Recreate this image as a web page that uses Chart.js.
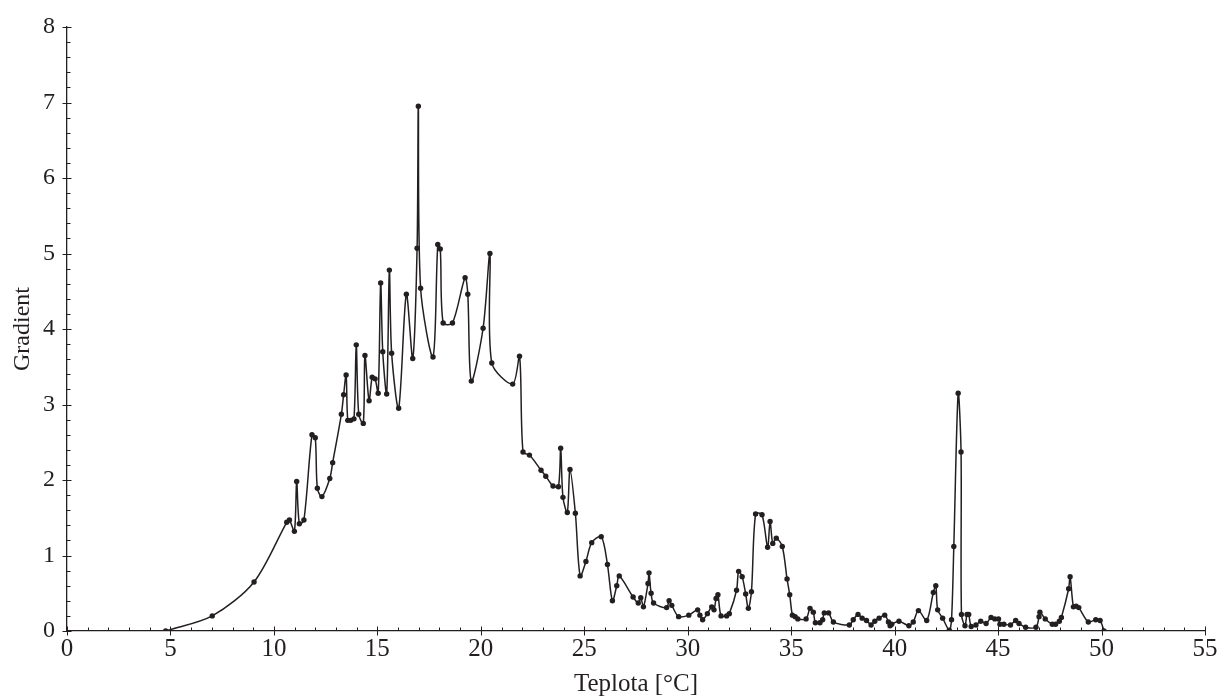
<!DOCTYPE html>
<html>
<head>
<meta charset="utf-8">
<title>Gradient</title>
<script src="https://cdn.jsdelivr.net/npm/chart.js@4.4.1/dist/chart.umd.min.js"></script>
<style>
  html, body { margin: 0; padding: 0; background: #ffffff; }
  #wrap { width: 1222px; height: 700px; }
</style>
</head>
<body>
<div id="wrap"><canvas id="chart" width="1222" height="700"></canvas></div>
<script>
// Measured temperature [°C] and the matching gradient values
const temperature = [
  4.77, 7.02, 9.04, 10.62, 10.75, 10.99, 11.10, 11.23, 11.45, 11.84,
  12.00, 12.10, 12.32, 12.70, 12.84, 13.26, 13.37, 13.49, 13.57, 13.71,
  13.87, 13.98, 14.10, 14.32, 14.40, 14.60, 14.75, 14.89, 15.04, 15.16,
  15.26, 15.45, 15.58, 15.69, 16.03, 16.40, 16.71, 16.92, 16.98, 17.09,
  17.69, 17.92, 18.04, 18.18, 18.63, 19.24, 19.37, 19.54, 20.11, 20.44,
  20.53, 21.54, 21.87, 22.04, 22.35, 22.91, 23.14, 23.49, 23.75, 23.86,
  23.97, 24.18, 24.31, 24.57, 24.80, 25.08, 25.36, 25.82, 26.12, 26.36,
  26.57, 26.69, 27.36, 27.61, 27.73, 27.86, 28.08, 28.13, 28.23, 28.35,
  28.98, 29.10, 29.23, 29.56, 30.05, 30.48, 30.59, 30.72, 30.95, 31.16,
  31.27, 31.37, 31.46, 31.61, 31.88, 32.01, 32.36, 32.46, 32.63, 32.80,
  32.93, 33.08, 33.28, 33.59, 33.86, 33.98, 34.11, 34.28, 34.57, 34.80,
  34.93, 35.06, 35.19, 35.32, 35.72, 35.91, 36.07, 36.17, 36.39, 36.52,
  36.60, 36.81, 37.04, 37.81, 38.00, 38.23, 38.43, 38.64, 38.86, 39.04,
  39.25, 39.52, 39.70, 39.78, 39.86, 40.21, 40.69, 40.90, 41.15, 41.55,
  41.87, 41.99, 42.08, 42.32, 42.64, 42.75, 42.86, 43.07, 43.21, 43.23,
  43.40, 43.50, 43.58, 43.70, 43.93, 44.16, 44.42, 44.66, 44.84, 45.02,
  45.09, 45.28, 45.60, 45.85, 46.01, 46.33, 46.83, 46.98, 47.02, 47.28,
  47.62, 47.78, 47.96, 48.06, 48.41, 48.48, 48.64, 48.77, 48.90, 49.36,
  49.72, 49.93, 50.12
];
const gradient = [
  0.00, 0.20, 0.65, 1.44, 1.47, 1.32, 1.98, 1.42, 1.47, 2.60,
  2.56, 1.89, 1.78, 2.02, 2.23, 2.87, 3.13, 3.39, 2.79, 2.79,
  2.81, 3.79, 2.87, 2.75, 3.65, 3.05, 3.36, 3.34, 3.15, 4.61,
  3.70, 3.14, 4.78, 3.68, 2.95, 4.46, 3.61, 5.07, 6.95, 4.54,
  3.63, 5.12, 5.06, 4.08, 4.08, 4.68, 4.46, 3.31, 4.01, 5.00,
  3.55, 3.27, 3.64, 2.37, 2.33, 2.13, 2.05, 1.92, 1.91, 2.42,
  1.77, 1.57, 2.14, 1.56, 0.73, 0.92, 1.17, 1.25, 0.88, 0.40,
  0.60, 0.73, 0.45, 0.37, 0.44, 0.32, 0.63, 0.77, 0.50, 0.37,
  0.31, 0.40, 0.34, 0.19, 0.21, 0.28, 0.21, 0.15, 0.23, 0.32,
  0.28, 0.43, 0.48, 0.20, 0.20, 0.23, 0.54, 0.79, 0.72, 0.49,
  0.30, 0.52, 1.55, 1.54, 1.11, 1.45, 1.16, 1.23, 1.12, 0.69,
  0.48, 0.21, 0.19, 0.16, 0.16, 0.30, 0.25, 0.11, 0.11, 0.15,
  0.24, 0.24, 0.12, 0.08, 0.15, 0.22, 0.17, 0.14, 0.08, 0.13,
  0.17, 0.21, 0.12, 0.07, 0.09, 0.13, 0.07, 0.12, 0.27, 0.14,
  0.51, 0.60, 0.28, 0.17, 0.01, 0.15, 1.12, 3.15, 2.37, 0.22,
  0.07, 0.22, 0.22, 0.06, 0.08, 0.13, 0.10, 0.18, 0.16, 0.16,
  0.09, 0.09, 0.08, 0.14, 0.10, 0.05, 0.05, 0.19, 0.25, 0.16,
  0.09, 0.09, 0.13, 0.18, 0.56, 0.72, 0.32, 0.33, 0.31, 0.12,
  0.15, 0.14, 0.00
];

// Axis ranges and tick marks
const xTickValues = [0, 5, 10, 15, 20, 25, 30, 35, 40, 45, 50, 55];
const yTickValues = [0, 1, 2, 3, 4, 5, 6, 7, 8];
const xMinorStep = 1;
const yMinorStep = 0.2;

const xTitle = 'Teplota [°C]';
const yTitle = 'Gradient';

const INK = '#231f20';
const SERIF = "'Liberation Serif', 'Times New Roman', serif";

const points = temperature.map((t, i) => ({ x: t, y: gradient[i] }));

// Major ticks cross the axis line, minor ticks sit inside the plot
const axisTicks = {
  id: 'axisTicks',
  afterDraw(chart) {
    const { ctx, scales } = chart;
    const xs = scales.x, ys = scales.y;
    const axisY = xs.top;
    const axisX = ys.right;
    ctx.save();
    ctx.strokeStyle = INK;
    ctx.lineWidth = 1;
    ctx.beginPath();
    const xMin = xTickValues[0], xMax = xTickValues[xTickValues.length - 1];
    for (let v = xMin; v <= xMax + 1e-9; v += xMinorStep) {
      const px = Math.round(xs.getPixelForValue(v)) + 0.5;
      const major = xTickValues.some(t => Math.abs(t - v) < 1e-6);
      ctx.moveTo(px, axisY - (major ? 4.5 : 3.5));
      ctx.lineTo(px, axisY + (major ? 4.5 : 0));
    }
    const yMin = yTickValues[0], yMax = yTickValues[yTickValues.length - 1];
    const nY = Math.round((yMax - yMin) / yMinorStep);
    for (let k = 0; k <= nY; k++) {
      const v = yMin + k * yMinorStep;
      const py = Math.round(ys.getPixelForValue(v)) + 0.5;
      const major = yTickValues.some(t => Math.abs(t - v) < 1e-6);
      ctx.moveTo(axisX - (major ? 4.5 : 0), py);
      ctx.lineTo(axisX + (major ? 4.5 : 3.5), py);
    }
    ctx.stroke();
    ctx.restore();
  }
};

new Chart(document.getElementById('chart'), {
  type: 'line',
  data: {
    datasets: [{
      data: points,
      borderColor: INK,
      borderWidth: 1.5,
      backgroundColor: INK,
      pointBackgroundColor: INK,
      pointBorderWidth: 0,
      pointRadius: 2.7,
      tension: 0.3,
      fill: false
    }]
  },
  options: {
    responsive: false,
    animation: false,
    devicePixelRatio: 1,
    events: [],
    layout: { padding: { top: 27, right: 17, left: 0, bottom: 0 } },
    plugins: { legend: { display: false }, tooltip: { enabled: false } },
    scales: {
      x: {
        type: 'linear',
        min: xTickValues[0],
        max: xTickValues[xTickValues.length - 1],
        grid: { display: false, drawTicks: false },
        border: { display: true, color: INK, width: 1.3 },
        afterBuildTicks: s => { s.ticks = xTickValues.map(v => ({ value: v })); },
        afterFit: s => { s.height = 69; s.paddingLeft = 0; s.paddingRight = 0; },
        ticks: {
          color: INK,
          padding: 3,
          maxRotation: 0,
          autoSkip: false,
          font: { family: SERIF, size: 25 }
        },
        title: {
          display: true,
          text: xTitle,
          color: INK,
          padding: { top: 0, bottom: 1 },
          font: { family: SERIF, size: 25 }
        }
      },
      y: {
        type: 'linear',
        min: yTickValues[0],
        max: yTickValues[yTickValues.length - 1],
        grid: { display: false, drawTicks: false },
        border: { display: true, color: INK, width: 1.3 },
        afterBuildTicks: s => { s.ticks = yTickValues.map(v => ({ value: v })); },
        afterFit: s => { s.width = 67; s.paddingTop = 0; s.paddingBottom = 0; },
        ticks: {
          color: INK,
          padding: 12,
          autoSkip: false,
          font: { family: SERIF, size: 24 }
        },
        title: {
          display: true,
          text: yTitle,
          color: INK,
          padding: { top: 8, bottom: 0 },
          font: { family: SERIF, size: 24 }
        }
      }
    }
  },
  plugins: [axisTicks]
});
</script>
</body>
</html>
